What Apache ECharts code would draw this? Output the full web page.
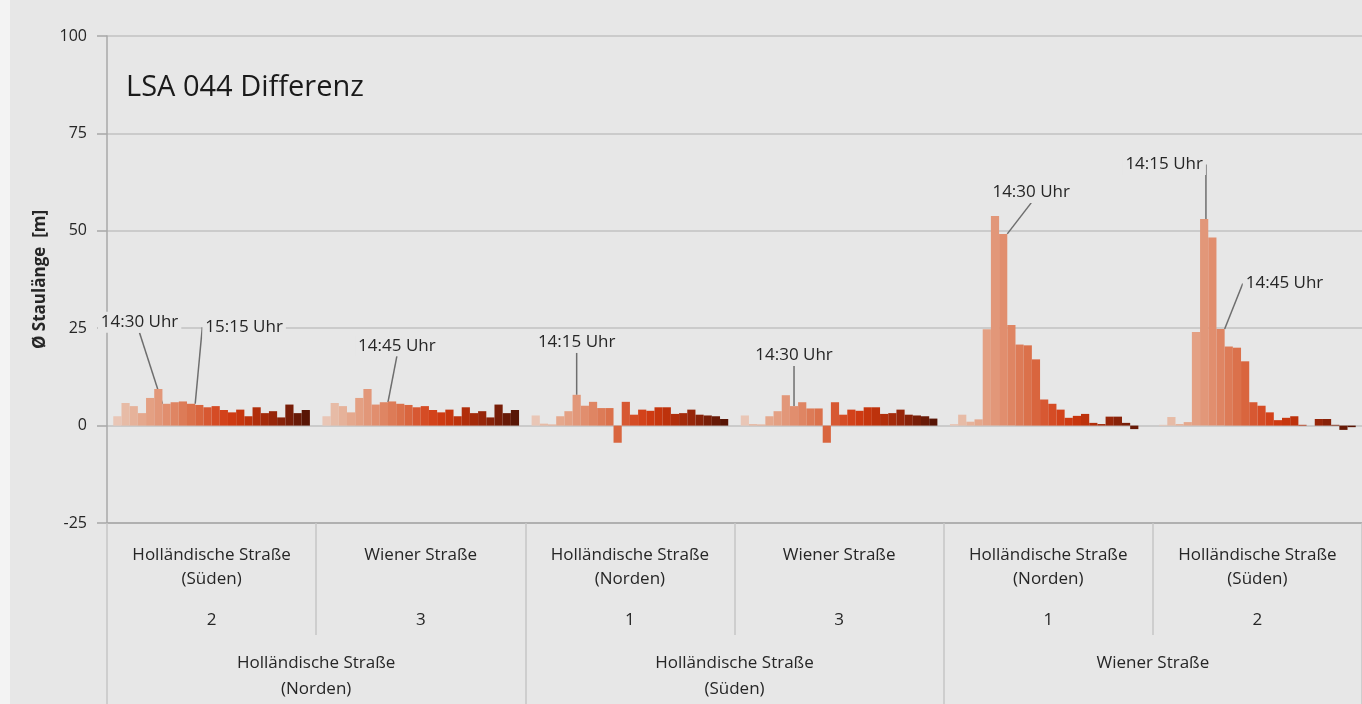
<!DOCTYPE html>
<html><head><meta charset="utf-8">
<script src="https://cdn.jsdelivr.net/npm/echarts@6/dist/echarts.min.js"></script>
<style>
html,body{margin:0;padding:0;background:#f3f3f3;overflow:hidden;}
#c{position:absolute;left:10px;top:0;width:1352px;height:704px;background:#e7e7e7;}
</style></head><body><div id="c"></div>
<script>
// ---- data ----
const times = ['13:00','13:15','13:30','13:45','14:00','14:15','14:30','14:45','15:00','15:15','15:30','15:45',
               '16:00','16:15','16:30','16:45','17:00','17:15','17:30','17:45','18:00','18:15','18:30','18:45'];
const approaches = ['Holländische Straße\n(Süden)', 'Wiener Straße', 'Holländische Straße\n(Norden)',
                    'Wiener Straße', 'Holländische Straße\n(Norden)', 'Holländische Straße\n(Süden)'];
const lanes = ['2', '3', '1', '3', '1', '2'];
const intersections = ['Holländische Straße\n(Norden)', 'Holländische Straße\n(Süden)', 'Wiener Straße'];
const yTicks = [-25, 0, 25, 50, 75, 100];

const hsNordenFromSueden = [2.4, 5.8, 5.0, 3.2, 7.1, 9.4, 5.6, 6.0, 6.2, 5.6, 5.3, 4.7, 5.0, 4.0, 3.4, 4.1, 2.4, 4.7, 3.2, 3.7, 2.1, 5.4, 3.2, 4.0];
const hsNordenFromWien   = [2.4, 5.8, 5.0, 3.4, 7.1, 9.4, 5.4, 6.0, 6.2, 5.6, 5.3, 4.7, 5.0, 4.0, 3.4, 4.1, 2.4, 4.7, 3.2, 3.7, 2.1, 5.4, 3.2, 4.0];
const hsSuedenFromNorden = [2.6, 0.5, 0.3, 2.4, 3.7, 7.9, 5.1, 6.1, 4.5, 4.5, -4.4, 6.1, 2.8, 4.1, 3.8, 4.7, 4.7, 3.0, 3.2, 4.1, 2.8, 2.6, 2.4, 1.7];
const hsSuedenFromWien   = [2.6, 0.4, 0.3, 2.4, 3.7, 7.8, 5.0, 6.0, 4.4, 4.4, -4.4, 6.0, 2.8, 4.1, 3.8, 4.7, 4.7, 3.0, 3.2, 4.1, 2.8, 2.6, 2.4, 1.8];
const wienFromNorden     = [0.4, 2.8, 1.0, 1.6, 24.7, 53.8, 49.2, 25.8, 20.8, 20.6, 17.0, 6.7, 5.6, 4.1, 2.0, 2.5, 3.0, 0.7, 0.4, 2.3, 2.3, 0.7, -0.9, 0];
const wienFromSueden     = [0.2, 2.2, 0.4, 0.9, 24.0, 53.0, 48.3, 24.8, 20.3, 20.0, 16.5, 6.0, 5.1, 3.4, 1.4, 2.0, 2.4, 0.2, 0, 1.7, 1.7, 0.2, -1.1, -0.4];

// annotated bars: [group index, time index]
const annotations = [[0, 6], [0, 9], [1, 7], [2, 5], [3, 6], [4, 6], [5, 5], [5, 7]];

// ---- styling ----
const groups = [hsNordenFromSueden, hsNordenFromWien, hsSuedenFromNorden, hsSuedenFromWien, wienFromNorden, wienFromSueden];
const palette = ['#e9c6b6','#e7bba6','#e6b29a','#e5a88d','#e4a083','#e29779','#e18e6e','#df8563','#dd7b57','#db714b',
                 '#d9653e','#d75832','#d54c25','#d3421a','#ce3a12','#c7360e','#bd320c','#b12e0b','#a42a0a','#97260a',
                 '#882209','#781e08','#681a07','#581505'];
const labelOffsets = {'0-6': [-27, -66], '0-9': [53, -61], '1-7': [13, -41], '2-5': [0, -37],
                      '3-6': [0, -35], '4-6': [28, -26], '5-5': [-40, -39], '5-7': [64, -30]};
const FONT = 'Open Sans';
const txt = '#262626';

const series = times.map((t, s) => ({
  name: t + ' Uhr',
  type: 'bar',
  xAxisIndex: 0,
  barGap: '0%',
  barCategoryGap: '6%',
  itemStyle: { color: palette[s] },
  label: { show: false },
  emphasis: { disabled: true },
  data: groups.map((g, gi) => {
    const item = { value: g[s] };
    if (annotations.some(a => a[0] === gi && a[1] === s)) {
      item.label = {
        show: true, position: 'top', distance: 5, formatter: t + ' Uhr',
        fontFamily: FONT, fontSize: 17, color: txt,
        backgroundColor: '#e7e7e7', padding: [2, 3]
      };
      item.labelLine = { show: true, lineStyle: { color: '#6e6e6e', width: 1.5 } };
    }
    return item;
  }),
  labelLayout: function (p) {
    const off = labelOffsets[p.dataIndex + '-' + s];
    return off ? { dx: off[0], dy: off[1] } : {};
  }
}));

const chart = echarts.init(document.getElementById('c'), null, { renderer: 'canvas' });
chart.setOption({
  animation: false,
  backgroundColor: '#e7e7e7',
  textStyle: { fontFamily: FONT },
  title: {
    text: 'LSA 044 Differenz', left: 111, top: 68,
    textStyle: { fontFamily: FONT, fontSize: 29, fontWeight: 'normal', color: '#1a1a1a' }
  },
  grid: { left: 97, right: 0, top: 36, bottom: 181, containLabel: false, outerBoundsMode: 'none' },
  yAxis: {
    type: 'value', min: yTicks[0], max: yTicks[yTicks.length - 1], interval: 25,
    name: 'Ø Staulänge  [m]', nameLocation: 'middle', nameGap: 55,
    nameTextStyle: { fontFamily: FONT, fontWeight: 'bold', fontSize: 17, color: txt },
    axisLine: { show: true, lineStyle: { color: '#a8a8a8', width: 1.5 } },
    axisTick: { show: true, length: 10, lineStyle: { color: '#a8a8a8', width: 1.5 } },
    axisLabel: { margin: 20, fontFamily: FONT, fontSize: 16, color: txt },
    splitLine: { show: true, lineStyle: { color: '#c2c2c2', width: 1.5 } }
  },
  xAxis: [
    {
      type: 'category', data: approaches, position: 'bottom',
      axisLine: { show: true, onZero: false, lineStyle: { color: '#a8a8a8', width: 1.5 } },
      axisTick: { show: true, interval: 0, length: 112, lineStyle: { color: '#c6c6c6', width: 1.5 } },
      axisLabel: { interval: 0, margin: 20, fontFamily: FONT, fontSize: 17, lineHeight: 24, color: txt },
      splitLine: { show: false }
    },
    {
      type: 'category', data: lanes, position: 'bottom',
      axisLine: { show: false, onZero: false }, axisTick: { show: false },
      axisLabel: { interval: 0, margin: 89, fontFamily: FONT, fontSize: 17, color: txt },
      splitLine: { show: false }
    },
    {
      type: 'category', data: intersections, position: 'bottom',
      axisLine: { show: false, onZero: false },
      axisTick: { show: true, interval: 0, length: 181, lineStyle: { color: '#c6c6c6', width: 1.5 } },
      axisLabel: { interval: 0, margin: 127, fontFamily: FONT, fontSize: 17, lineHeight: 26, color: txt },
      splitLine: { show: false }
    }
  ],
  series: series
});
</script></body></html>
